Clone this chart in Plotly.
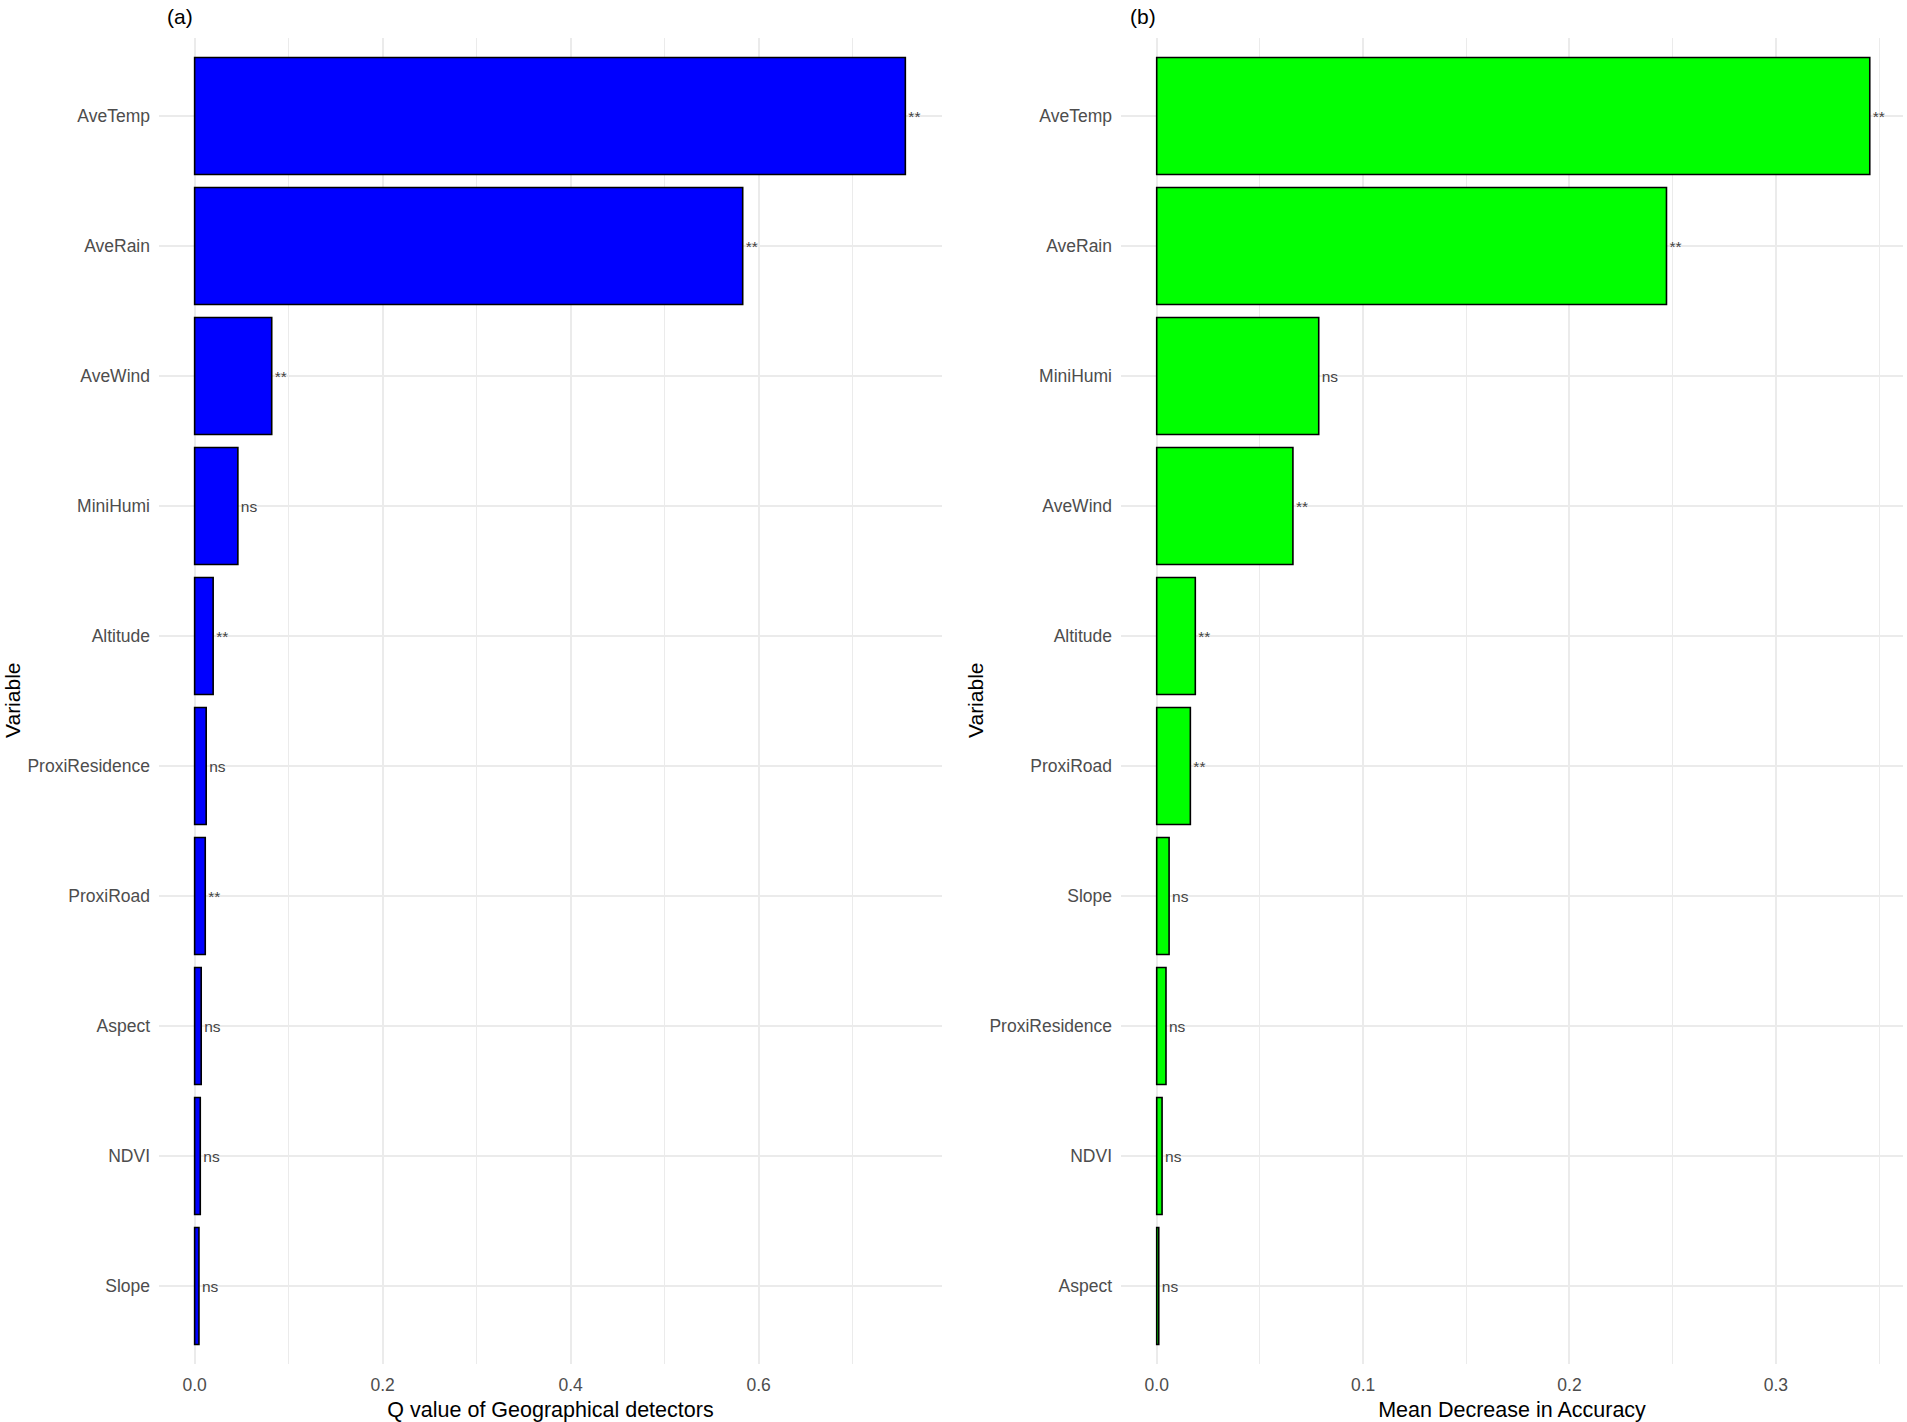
import plotly.graph_objects as go
from plotly.subplots import make_subplots

# panel (a) - geographical detector q values, top to bottom
geo_vars = ["AveTemp", "AveRain", "AveWind", "MiniHumi", "Altitude",
            "ProxiResidence", "ProxiRoad", "Aspect", "NDVI", "Slope"]
geo_q = [0.756, 0.583, 0.082, 0.046, 0.0197, 0.0123, 0.0113, 0.0070, 0.0060, 0.0046]
geo_sig = ["**", "**", "**", "ns", "**", "ns", "**", "ns", "ns", "ns"]

# panel (b) - random forest mean decrease in accuracy, top to bottom
rf_vars = ["AveTemp", "AveRain", "MiniHumi", "AveWind", "Altitude",
           "ProxiRoad", "Slope", "ProxiResidence", "NDVI", "Aspect"]
rf_mda = [0.3455, 0.247, 0.0785, 0.066, 0.0187, 0.0163, 0.0060, 0.0045, 0.0026, 0.0010]
rf_sig = ["**", "**", "ns", "**", "**", "**", "ns", "ns", "ns", "ns"]

FONT = "Liberation Sans, Arial, sans-serif"
GRID = "#EBEBEB"
TICK = "#4D4D4D"

W, H = 1907, 1422
ML, MR, MT, MB = 159, 4, 38, 58
pw = W - ML - MR
ph = H - MT - MB

fig = make_subplots(rows=1, cols=2, horizontal_spacing=0.1)

fig.add_trace(go.Bar(
    x=geo_q, y=geo_vars, orientation="h", width=0.9,
    marker=dict(color="#0000FF", line=dict(color="black", width=1.6)),
    text=geo_sig, textposition="outside", cliponaxis=False,
    textfont=dict(family=FONT, size=15.5, color="#444444"),
), row=1, col=1)

fig.add_trace(go.Bar(
    x=rf_mda, y=rf_vars, orientation="h", width=0.9,
    marker=dict(color="#00FF00", line=dict(color="black", width=1.6)),
    text=rf_sig, textposition="outside", cliponaxis=False,
    textfont=dict(family=FONT, size=15.5, color="#444444"),
), row=1, col=2)

def xax(rng, dtick, title):
    return dict(
        range=rng, dtick=dtick, tickformat=".1f", showgrid=True, gridcolor=GRID, gridwidth=2,
        minor=dict(dtick=dtick / 2, showgrid=True, gridcolor=GRID, gridwidth=1),
        zeroline=False, showline=False, ticks="", ticklabelstandoff=8,
        tickfont=dict(family=FONT, size=17.5, color=TICK),
        title=dict(text=title, font=dict(family=FONT, size=21.5, color="black"), standoff=15),
        automargin=False,
    )

def yax():
    return dict(
        range=[9.6, -0.6], showgrid=True, gridcolor=GRID, gridwidth=2, zeroline=False,
        showline=False, ticks="", ticklabelstandoff=8,
        tickfont=dict(family=FONT, size=17.5, color=TICK),
        automargin=False,
    )

fig.update_layout(
    width=W, height=H,
    margin=dict(l=ML, r=MR, t=MT, b=MB),
    paper_bgcolor="white", plot_bgcolor="white",
    showlegend=False, bargap=0.1,
    xaxis=dict(domain=[0, (942 - ML) / pw], **xax([-0.0379, 0.795], 0.2, "Q value of Geographical detectors")),
    xaxis2=dict(domain=[(1121 - ML) / pw, 1], **xax([-0.0173, 0.3616], 0.1, "Mean Decrease in Accuracy")),
    yaxis=yax(),
    yaxis2=yax(),
    font=dict(family=FONT),
)

annos = [
    ("(a)", 180, 16, 0, 21),
    ("(b)", 1143, 16, 0, 21),
    ("Variable", 12, 700, -90, 21),
    ("Variable", 975, 700, -90, 21),
]
for txt, px, py, ang, sz in annos:
    fig.add_annotation(
        text=txt, xref="paper", yref="paper",
        x=(px - ML) / pw, y=(H - MB - py) / ph,
        showarrow=False, textangle=ang, borderpad=0,
        font=dict(family=FONT, size=sz, color="black"),
        xanchor="center", yanchor="middle",
    )

# drop the default 8px page margin so the figure fills the window exactly
fig.write_html("out.html", config={"displayModeBar": False},
               post_script="document.body.style.margin='0';")
